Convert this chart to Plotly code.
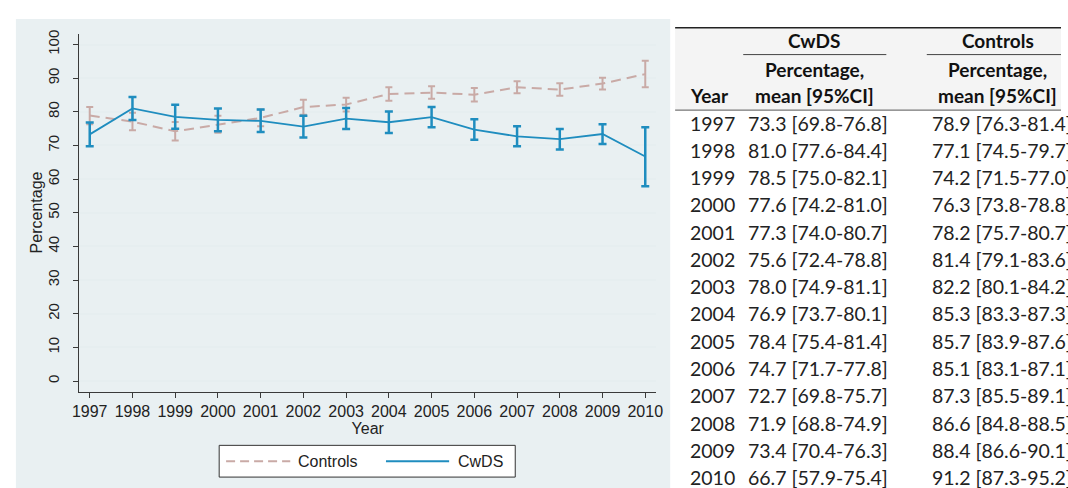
import plotly.graph_objects as go

# ---- data -------------------------------------------------------------
years = [1997, 1998, 1999, 2000, 2001, 2002, 2003, 2004, 2005, 2006, 2007, 2008, 2009, 2010]

cwds_mean = [73.3, 81.0, 78.5, 77.6, 77.3, 75.6, 78.0, 76.9, 78.4, 74.7, 72.7, 71.9, 73.4, 66.7]
cwds_lo = [69.8, 77.6, 75.0, 74.2, 74.0, 72.4, 74.9, 73.7, 75.4, 71.7, 69.8, 68.8, 70.4, 57.9]
cwds_hi = [76.8, 84.4, 82.1, 81.0, 80.7, 78.8, 81.1, 80.1, 81.4, 77.8, 75.7, 74.9, 76.3, 75.4]

ctrl_mean = [78.9, 77.1, 74.2, 76.3, 78.2, 81.4, 82.2, 85.3, 85.7, 85.1, 87.3, 86.6, 88.4, 91.2]
ctrl_lo = [76.3, 74.5, 71.5, 73.8, 75.7, 79.1, 80.1, 83.3, 83.9, 83.1, 85.5, 84.8, 86.6, 87.3]
ctrl_hi = [81.4, 79.7, 77.0, 78.8, 80.7, 83.6, 84.2, 87.3, 87.6, 87.1, 89.1, 88.5, 90.1, 95.2]

y_ticks = [0, 10, 20, 30, 40, 50, 60, 70, 80, 90, 100]

# ---- styling ----------------------------------------------------------
W, H = 1068, 488
BLUE = "#1f8dbf"
ROSE = "#c9aaa6"
PANEL = "#e9f0f2"
GRID = "#e6eef0"
AXIS = "#3a3a3a"
CHART_FONT = "Liberation Sans"
TABLE_FONT = "Lato"


def px_x(x):
    return x / W


def px_y(y):
    return 1 - y / H


fig = go.Figure()

# Controls (dashed) drawn first so the CwDS series sits on top
fig.add_trace(go.Scatter(
    x=years, y=ctrl_mean, mode="lines", name="Controls",
    line=dict(color=ROSE, width=2, dash="10px,6px"),
    error_y=dict(type="data", symmetric=False,
                 array=[h - m for h, m in zip(ctrl_hi, ctrl_mean)],
                 arrayminus=[m - l for m, l in zip(ctrl_mean, ctrl_lo)],
                 color=ROSE, thickness=2, width=3.5),
    showlegend=False,
))
fig.add_trace(go.Scatter(
    x=years, y=cwds_mean, mode="lines", name="CwDS",
    line=dict(color=BLUE, width=1.8),
    error_y=dict(type="data", symmetric=False,
                 array=[h - m for h, m in zip(cwds_hi, cwds_mean)],
                 arrayminus=[m - l for m, l in zip(cwds_mean, cwds_lo)],
                 color=BLUE, thickness=2.5, width=4),
    showlegend=False,
))

shapes = []
annotations = []

# chart panel background
shapes.append(dict(type="rect", xref="paper", yref="paper", layer="below",
                   x0=px_x(9), x1=px_x(672), y0=px_y(488), y1=px_y(15),
                   fillcolor=PANEL, line=dict(width=0)))

# y-axis title, centred on the plot area
annotations.append(dict(text="Percentage", xref="paper", yref="paper",
                        x=px_x(30), y=px_y(210.5), xanchor="center", yanchor="middle",
                        textangle=-90, showarrow=False,
                        font=dict(family=CHART_FONT, size=16, color="#222")))

# legend box with line samples
shapes.append(dict(type="rect", xref="paper", yref="paper",
                   x0=px_x(215), x1=px_x(515), y0=px_y(477), y1=px_y(445),
                   fillcolor="white", line=dict(color="#333333", width=1)))
shapes.append(dict(type="line", xref="paper", yref="paper",
                   x0=px_x(222), x1=px_x(287), y0=px_y(461), y1=px_y(461),
                   line=dict(color=ROSE, width=2, dash="9px,5px")))
shapes.append(dict(type="line", xref="paper", yref="paper",
                   x0=px_x(384), x1=px_x(448), y0=px_y(461), y1=px_y(461),
                   line=dict(color=BLUE, width=2)))
annotations.append(dict(text="Controls", xref="paper", yref="paper",
                        x=px_x(293), y=px_y(461), xanchor="left", yanchor="middle",
                        showarrow=False, font=dict(family=CHART_FONT, size=16, color="#222")))
annotations.append(dict(text="CwDS", xref="paper", yref="paper",
                        x=px_x(455), y=px_y(461), xanchor="left", yanchor="middle",
                        showarrow=False, font=dict(family=CHART_FONT, size=16, color="#222")))

# ---- table of means and confidence intervals --------------------------
TX0 = 677
shapes.append(dict(type="rect", xref="paper", yref="paper", layer="below",
                   x0=px_x(TX0), x1=1, y0=px_y(107), y1=px_y(24),
                   fillcolor="#f4f4f4", line=dict(width=0)))
shapes.append(dict(type="line", xref="paper", yref="paper",
                   x0=px_x(TX0), x1=1, y0=px_y(24), y1=px_y(24),
                   line=dict(color="#222", width=1.5)))
shapes.append(dict(type="line", xref="paper", yref="paper",
                   x0=px_x(TX0), x1=1, y0=px_y(107), y1=px_y(107),
                   line=dict(color="#555", width=1)))
shapes.append(dict(type="line", xref="paper", yref="paper",
                   x0=px_x(746), x1=px_x(891), y0=px_y(51), y1=px_y(51),
                   line=dict(color="#444", width=1)))
shapes.append(dict(type="line", xref="paper", yref="paper",
                   x0=px_x(932), x1=1, y0=px_y(51), y1=px_y(51),
                   line=dict(color="#444", width=1)))

TFONT = dict(family=TABLE_FONT, size=19.5, color="#222")
TFONT_B = dict(family=TABLE_FONT, size=19, color="#111")


def cell(text, x, y, anchor="left", font=TFONT):
    annotations.append(dict(text=text, xref="paper", yref="paper",
                            x=px_x(x), y=px_y(y), xanchor=anchor, yanchor="middle",
                            showarrow=False, font=font))


cell("<b>CwDS</b>", 818, 37, "center", TFONT_B)
cell("<b>Controls</b>", 1004, 37, "center", TFONT_B)
for cx in (818, 1004):
    cell("<b>Percentage,</b>", cx, 66, "center", TFONT_B)
    cell("<b>mean [95%CI]</b>", cx, 92, "center", TFONT_B)
cell("<b>Year</b>", 690, 92, "left", TFONT_B)

ROW0, ROWH = 120, 27.5
for i, yr in enumerate(years):
    yy = ROW0 + i * ROWH
    cell(str(yr), 690, yy)
    cell(f"{cwds_mean[i]:.1f} [{cwds_lo[i]:.1f}-{cwds_hi[i]:.1f}]", 749, yy)
    cell(f"{ctrl_mean[i]:.1f} [{ctrl_lo[i]:.1f}-{ctrl_hi[i]:.1f}]", 935, yy)

# ---- layout -----------------------------------------------------------
fig.update_layout(
    width=W, height=H,
    margin=dict(l=0, r=0, t=0, b=0),
    paper_bgcolor="white",
    plot_bgcolor="white",
    shapes=shapes,
    annotations=annotations,
    font=dict(family=CHART_FONT, color="#222"),
    xaxis=dict(
        domain=[px_x(73), px_x(658)],
        range=[1996.75, 2010.26],
        tickvals=years, ticktext=[str(y) for y in years],
        ticks="outside", ticklen=5, tickcolor=AXIS, tickwidth=1,
        showline=True, linecolor=AXIS, linewidth=1.2,
        showgrid=False, zeroline=False,
        tickfont=dict(family=CHART_FONT, size=16, color="#222"),
        title=dict(text="Year", font=dict(family=CHART_FONT, size=16, color="#222"), standoff=0),
    ),
    yaxis=dict(
        domain=[px_y(391), px_y(30)],
        range=[-3.2, 103.2],
        tickvals=y_ticks,
        tickangle=-90,
        ticks="outside", ticklen=5, tickcolor=AXIS, tickwidth=1,
        ticklabelstandoff=8,
        showline=True, linecolor=AXIS, linewidth=1.2,
        showgrid=True, gridcolor=GRID, gridwidth=1.5,
        zeroline=False,
        tickfont=dict(family=CHART_FONT, size=15, color="#222"),
    ),
)

fig.write_html("out.html")
